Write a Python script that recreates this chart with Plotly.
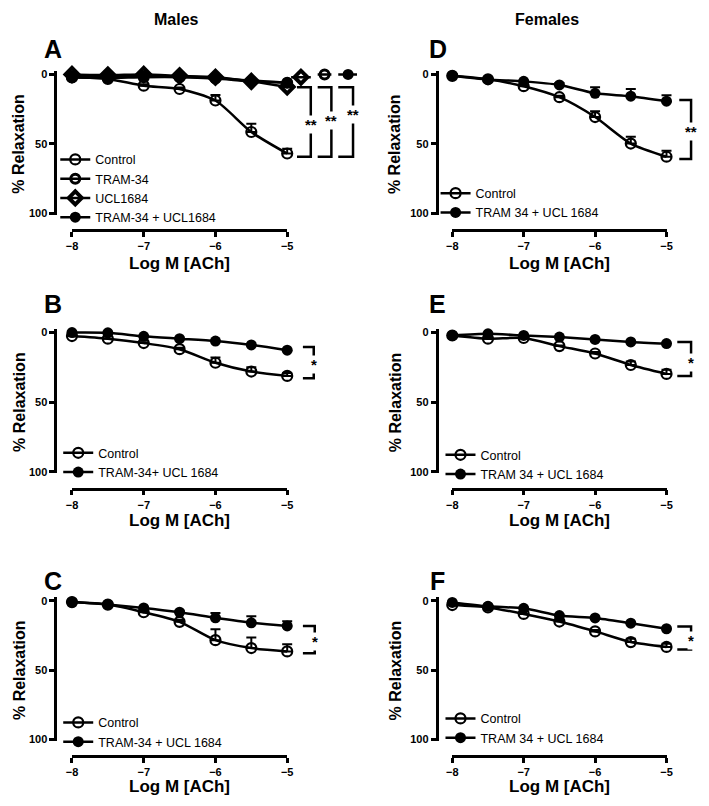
import plotly.graph_objects as go

W, H = 709, 806
OFF = 8  # default page margin around the plot div
FONT = "Liberation Sans, Arial, sans-serif"

LOG_ACH = [-8, -7.5, -7, -6.5, -6, -5.5, -5]
X_TICKS = [-8, -7, -6, -5]
Y_TICKS = [0, 50, 100]
NO_ERR = [0, 0, 0, 0, 0, 0, 0]

# males
A_CONTROL = [2.1, 3.3, 8.1, 10.5, 18.8, 41.5, 57.0]
A_CONTROL_SEM = [0, 0, 1.0, 1.0, 4.0, 6.0, 3.5]
A_TRAM = [2.0, 2.5, 2.0, 2.0, 3.0, 5.0, 6.0]
A_UCL = [0.0, 0.5, 0.0, 1.0, 2.0, 5.0, 9.0]
A_TRAM_UCL = [1.0, 1.0, 1.0, 1.5, 2.5, 4.5, 6.0]

B_CONTROL = [2.8, 4.7, 7.8, 12.2, 21.9, 28.2, 31.3]
B_CONTROL_SEM = [0, 0, 0.5, 1.0, 3.8, 3.0, 2.0]
B_TRAM_UCL = [0.3, 0.5, 3.0, 4.7, 6.4, 9.2, 12.9]

C_CONTROL = [1.0, 2.8, 8.3, 15.2, 28.4, 34.1, 36.5]
C_CONTROL_SEM = [0, 0, 1.0, 1.5, 7.8, 7.6, 5.2]
C_TRAM_UCL = [1.0, 2.8, 5.2, 8.3, 12.3, 15.9, 18.2]
C_TRAM_UCL_SEM = [0, 0, 0.5, 1.0, 3.5, 4.8, 3.5]

# females
D_CONTROL = [1.0, 3.5, 8.5, 16.4, 30.7, 49.8, 59.3]
D_CONTROL_SEM = [0, 0, 0.5, 1.0, 4.2, 4.8, 4.3]
D_TRAM_UCL = [0.9, 3.6, 5.0, 7.6, 13.6, 15.7, 19.3]
D_TRAM_UCL_SEM = [0, 0, 0.5, 1.5, 4.3, 5.2, 4.3]

E_CONTROL = [2.4, 4.7, 4.2, 10.0, 15.3, 23.5, 29.9]
E_CONTROL_SEM = [0, 0, 0, 0.5, 1.0, 2.5, 3.0]
E_TRAM_UCL = [2.4, 1.2, 2.4, 3.5, 5.2, 7.0, 8.2]

F_CONTROL = [3.1, 4.8, 9.5, 15.0, 22.1, 29.8, 33.3]
F_CONTROL_SEM = [0, 0, 0, 0.5, 1.0, 2.4, 2.3]
F_TRAM_UCL = [1.2, 4.0, 5.5, 10.7, 12.4, 16.2, 20.2]

# pixel geometry (window pixels) of the two columns / three rows
COLS = [
    dict(axis=52, x8=67, x5=286, right=362, ytitle=13, letter=48),
    dict(axis=440, x8=454, x5=672, right=701, ytitle=396, letter=439),
]
ROWS = [
    dict(y0=72, y100=212, xline=229, letter=46, xtitle=263),
    dict(y0=332, y100=473, xline=490, letter=304, xtitle=522),
    dict(y0=603, y100=743, xline=760, letter=583, xtitle=790),
]
Y_RANGE = [101, -2.5]

STYLES = {
    "control": dict(symbol="circle-open", size=10, color="black", line=dict(width=2.2, color="black")),
    "tram": dict(symbol="circle-open", size=9, color="black", line=dict(width=3, color="black")),
    "ucl": dict(symbol="diamond-open", size=10, color="black", line=dict(width=4, color="black")),
    "combo": dict(symbol="circle", size=11, color="black", line=dict(width=0)),
}

PANELS = [
    dict(letter="A", col=0, row=0, legend_at=(93, 159),
         series=[("Control", A_CONTROL, A_CONTROL_SEM, "control"),
                 ("TRAM-34", A_TRAM, NO_ERR, "tram"),
                 ("UCL1684", A_UCL, NO_ERR, "ucl"),
                 ("TRAM-34 + UCL1684", A_TRAM_UCL, NO_ERR, "combo")],
         brackets=[(-4.863, -4.671, 9.3, 59.3, "**", 34),
                   (-4.575, -4.384, 9.3, 59.3, "**", 31),
                   (-4.288, -4.082, 9.3, 59.3, "**", 27)],
         keys=[("ucl", -4.945, -4.808, -4.671, 2),
               ("tram", -4.575, -4.479, -4.384, 0),
               ("combo", -4.288, -4.151, -4.027, 0)]),
    dict(letter="B", col=0, row=1, legend_at=(96, 455),
         series=[("Control", B_CONTROL, B_CONTROL_SEM, "control"),
                 ("TRAM-34+ UCL 1684", B_TRAM_UCL, NO_ERR, "combo")],
         brackets=[(-4.781, -4.63, 10.6, 33, "*", 21)], keys=[]),
    dict(letter="C", col=0, row=2, legend_at=(96, 727),
         series=[("Control", C_CONTROL, C_CONTROL_SEM, "control"),
                 ("TRAM-34 + UCL 1684", C_TRAM_UCL, C_TRAM_UCL_SEM, "combo")],
         brackets=[(-4.781, -4.616, 18.2, 37.9, "*", 27.5)], keys=[]),
    dict(letter="D", col=1, row=0, legend_at=(480, 193),
         series=[("Control", D_CONTROL, D_CONTROL_SEM, "control"),
                 ("TRAM 34 + UCL 1684", D_TRAM_UCL, D_TRAM_UCL_SEM, "combo")],
         brackets=[(-4.821, -4.656, 18.5, 61, "**", 39)], keys=[]),
    dict(letter="E", col=1, row=1, legend_at=(485, 457),
         series=[("Control", E_CONTROL, E_CONTROL_SEM, "control"),
                 ("TRAM 34 + UCL 1684", E_TRAM_UCL, NO_ERR, "combo")],
         brackets=[(-4.849, -4.656, 7, 31.3, "*", 19.5)], keys=[]),
    dict(letter="F", col=1, row=2, legend_at=(485, 723),
         series=[("Control", F_CONTROL, F_CONTROL_SEM, "control"),
                 ("TRAM 34 + UCL 1684", F_TRAM_UCL, NO_ERR, "combo")],
         brackets=[(-4.849, -4.656, 18.6, 35.2, "*", 26.5)], keys=[]),
]

FW, FH = W - 2 * OFF, H - 2 * OFF


def px_x(px):
    return (px - OFF) / FW


def px_y(py):
    return 1 - (py - OFF) / FH


def bold(size):
    return dict(family=FONT, size=size, color="black", weight="bold")


def label(px, py, text, size, **kw):
    return dict(x=px_x(px), y=px_y(py), xref="paper", yref="paper", text=text,
                xanchor="center", yanchor="middle", showarrow=False, font=bold(size), **kw)


fig = go.Figure()
layout = dict(
    width=FW, height=FH, margin=dict(l=0, r=0, t=0, b=0),
    paper_bgcolor="white", plot_bgcolor="rgba(0,0,0,0)",
    font=dict(family=FONT, color="black"), shapes=[], annotations=[],
)

for i, p in enumerate(PANELS, start=1):
    c, r = COLS[p["col"]], ROWS[p["row"]]
    ppu_x = (c["x5"] - c["x8"]) / 3
    x_lo = -8 - (c["x8"] - c["axis"]) / ppu_x
    x_hi = -5 + (c["right"] - c["x5"]) / ppu_x
    ppu_y = (r["y100"] - r["y0"]) / 100
    top_px = r["y0"] + Y_RANGE[1] * ppu_y
    bot_px = r["y0"] + Y_RANGE[0] * ppu_y
    xa, ya, xd = f"x{i}", f"y{i}", f"x{i + 6}"
    leg = "legend" if i == 1 else f"legend{i}"

    for name, vals, sem, style in p["series"]:
        fig.add_trace(go.Scatter(
            x=LOG_ACH, y=vals, name=name, mode="lines+markers",
            line=dict(color="black", width=2.5, shape="spline", smoothing=0.7),
            marker=STYLES[style], cliponaxis=False, legend=leg,
            error_y=dict(type="data", symmetric=False, array=NO_ERR, arrayminus=sem,
                         color="black", thickness=2, width=5),
            xaxis=xa, yaxis=ya,
        ))

    # little keys on top of the significance brackets
    for style, xl, xm, xr, yv in p["keys"]:
        fig.add_trace(go.Scatter(
            x=[xl, xr], y=[yv, yv], mode="lines", showlegend=False, hoverinfo="skip",
            line=dict(color="black", width=2.5), xaxis=xa, yaxis=ya,
        ))
        fig.add_trace(go.Scatter(
            x=[xm], y=[yv], mode="markers", showlegend=False, hoverinfo="skip",
            marker=STYLES[style], cliponaxis=False, xaxis=xa, yaxis=ya,
        ))

    # empty trace so the offset display x-axis gets drawn
    fig.add_trace(go.Scatter(x=[], y=[], showlegend=False, hoverinfo="skip", xaxis=xd, yaxis=ya))

    layout[f"xaxis{i}"] = dict(
        domain=[px_x(c["axis"]), px_x(c["right"])], range=[x_lo, x_hi], anchor=ya,
        showline=False, showgrid=False, zeroline=False, showticklabels=False, ticks="",
    )
    layout[f"yaxis{i}"] = dict(
        domain=[px_y(bot_px), px_y(top_px)], range=Y_RANGE, anchor=xa,
        showline=True, linewidth=2.5, linecolor="black", showgrid=False, zeroline=False,
        ticks="outside", ticklen=5, tickwidth=2.5, tickcolor="black",
        tickvals=Y_TICKS, tickfont=bold(11),
    )
    layout[f"xaxis{i + 6}"] = dict(
        domain=[px_x(c["x8"]), px_x(c["x5"])], range=[-8, -5], anchor="free",
        position=px_y(r["xline"]), showline=True, linewidth=2.5, linecolor="black",
        showgrid=False, zeroline=False, ticks="outside", ticklen=5, tickwidth=2.5,
        tickcolor="black", tickvals=X_TICKS, tickfont=bold(11),
    )

    lx, ly = p["legend_at"]
    layout[leg] = dict(
        x=px_x(lx - 43), y=px_y(ly - 16), xanchor="left", yanchor="top",
        bgcolor="rgba(0,0,0,0)", borderwidth=0, itemwidth=30, tracegroupgap=0,
        font=dict(family=FONT, size=12.5, color="black"), traceorder="normal",
    )

    for x0, x1, yt, yb, txt, ty in p["brackets"]:
        layout["shapes"].append(dict(
            type="path", path=f"M {x0},{yt} L {x1},{yt} L {x1},{yb} L {x0},{yb}",
            xref=xa, yref=ya, line=dict(color="black", width=2.5),
        ))
        layout["annotations"].append(dict(
            x=x1, y=ty, xref=xa, yref=ya, text=txt, showarrow=False,
            xanchor="center", yanchor="middle",
            font=bold(15), bgcolor="white", yshift=-3, borderpad=0,
        ))

    layout["annotations"] += [
        label(c["letter"], r["letter"], p["letter"], 25),
        label(c["ytitle"], (r["y0"] + r["y100"]) / 2, "% Relaxation", 16, textangle=-90),
        label((c["x8"] + c["x5"]) / 2, r["xtitle"], "Log M [ACh]", 17),
    ]

layout["annotations"] += [label(173, 17, "Males", 16), label(550, 17, "Females", 16)]

fig.update_layout(**layout)
fig.write_html("out.html")
